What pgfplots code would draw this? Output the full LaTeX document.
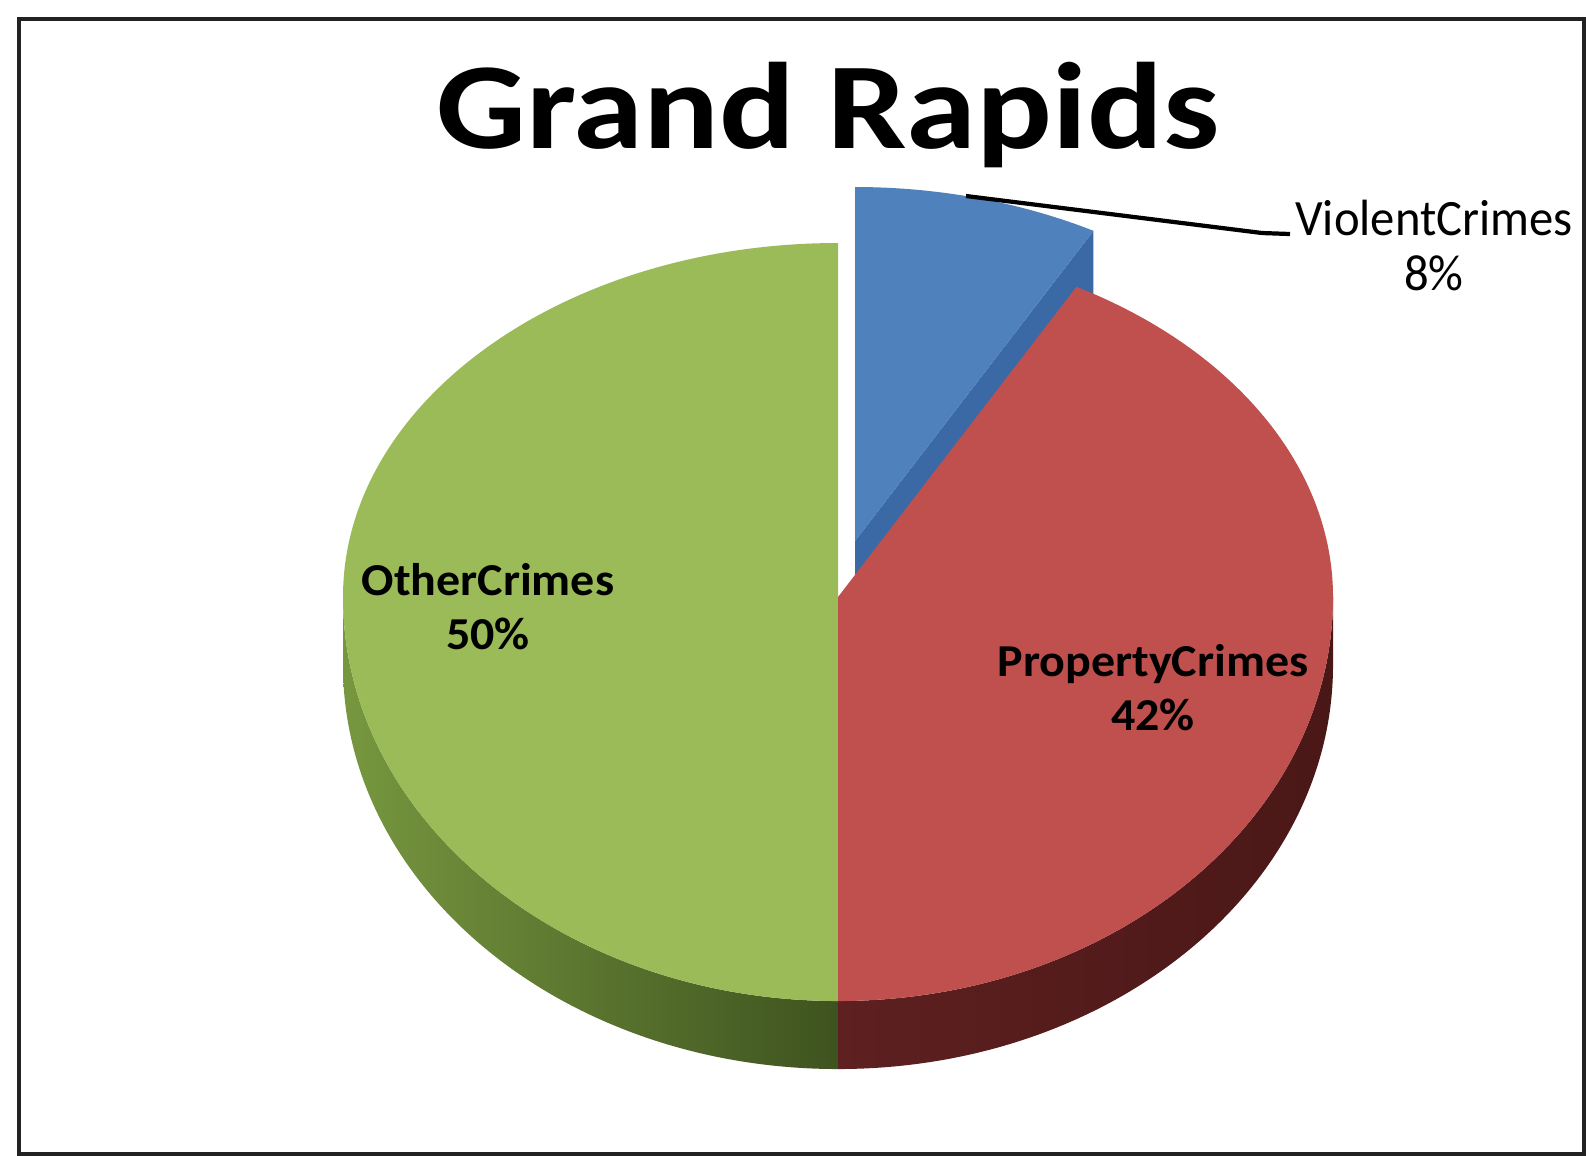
\documentclass[border=0pt]{standalone}
\usepackage{fontspec}
\setmainfont{Carlito}
\usepackage{pgfplots}
\usepackage{pgfplotstable}
\pgfplotsset{compat=1.18}
\definecolor{vblue}{HTML}{4F81BD}
\definecolor{vbluedark}{HTML}{3A69A6}
\definecolor{pred}{HTML}{C0504D}
\definecolor{predsideL}{HTML}{5E2020}
\definecolor{predsideR}{HTML}{4A1717}
\definecolor{ogreen}{HTML}{9BBB59}
\definecolor{ogreensideL}{HTML}{77973F}
\definecolor{ogreensideR}{HTML}{3E531F}
\definecolor{framec}{HTML}{222222}

\pgfplotstableread{
label value
ViolentCrimes 8
PropertyCrimes 42
OtherCrimes 50
}\piedata
\pgfplotstablegetelem{0}{value}\of\piedata \let\vViolent\pgfplotsretval
\pgfplotstablegetelem{1}{value}\of\piedata \let\vProperty\pgfplotsretval
\pgfplotstablegetelem{2}{value}\of\piedata \let\vOther\pgfplotsretval
% slice boundaries (degrees, counter-clockwise), starting at 12 o'clock, clockwise order
\pgfmathsetmacro\aV{90-3.6*\vViolent}          % end of ViolentCrimes
\pgfmathsetmacro\aP{\aV-3.6*\vProperty}        % end of PropertyCrimes
\pgfmathsetmacro\aO{\aP-3.6*\vOther}           % end of OtherCrimes
\def\rx{4.95cm}
\def\ryt{3.54cm}
\def\ryb{4.04cm}
\def\dep{0.68cm}

\begin{document}
\begin{tikzpicture}
\begin{axis}[
  scale only axis, width=15.86cm, height=11.55cm,
  xmin=0, xmax=1586, ymin=0, ymax=1155, y dir=reverse,
  hide axis, clip=false]
\path[fill=white] (axis cs:0,0) rectangle (axis cs:1586,1155);
\draw[framec, line width=0.9pt] (axis cs:19,1154) -- (axis cs:19,19) -- (axis cs:1584,19) -- (axis cs:1584,1154) -- cycle;

\coordinate (O) at (axis cs:838,597);
\coordinate (Ob) at (axis cs:855,541);

% exploded ViolentCrimes slice
\fill[vbluedark] (Ob) -- ++({cos(\aV)*\rx},{sin(\aV)*\ryt}) -- ++(0pt,-\dep) -- ++({-cos(\aV)*\rx},{-sin(\aV)*\ryt}) -- cycle;
\fill[vblue] (Ob) -- ++(0pt,\ryt) arc[start angle=90, end angle=\aV, x radius=\rx, y radius=\ryt] -- cycle;

% sides
\shade[left color=ogreensideL, right color=ogreensideR]
  (O) ++(-\rx,0pt) arc[start angle=180, end angle=270, x radius=\rx, y radius=\ryb]
  -- ++(0pt,-\dep) arc[start angle=270, end angle=180, x radius=\rx, y radius=\ryb] -- cycle;
\shade[left color=predsideL, right color=predsideR]
  (O) ++(0pt,-\ryb) arc[start angle=270, end angle=360, x radius=\rx, y radius=\ryb]
  -- ++(0pt,-\dep) arc[start angle=360, end angle=270, x radius=\rx, y radius=\ryb] -- cycle;

% top faces
\fill[ogreen] (O) -- ++(0pt,\ryt) arc[start angle=90, end angle=180, x radius=\rx, y radius=\ryt]
  arc[start angle=180, end angle=270, x radius=\rx, y radius=\ryb] -- cycle;
\fill[pred] (O) -- ++(0pt,-\ryb) arc[start angle=270, end angle=360, x radius=\rx, y radius=\ryb]
  arc[start angle=0, end angle=\aV, x radius=\rx, y radius=\ryt] -- cycle;

% leader line
\draw[black, line width=1.2pt] (axis cs:966,196) -- (axis cs:1262,233) -- (axis cs:1290,234);

% labels
\node[anchor=base, xscale=0.955, font=\fontsize{14.5}{17}\selectfont] at (axis cs:1434,235) {ViolentCrimes};
\node[anchor=base, xscale=0.955, font=\fontsize{14.5}{17}\selectfont] at (axis cs:1434,290) {8\%};
\node[anchor=base, xscale=1.05, font=\bfseries\fontsize{13}{16}\selectfont] at (axis cs:488,595) {OtherCrimes};
\node[anchor=base, xscale=1.05, font=\bfseries\fontsize{13}{16}\selectfont] at (axis cs:488,649) {50\%};
\node[anchor=base, xscale=1.05, font=\bfseries\fontsize{13}{16}\selectfont] at (axis cs:1153,676) {PropertyCrimes};
\node[anchor=base, xscale=1.05, font=\bfseries\fontsize{13}{16}\selectfont] at (axis cs:1153,730) {42\%};

% title
\node[anchor=base, xscale=1.15, font=\bfseries\fontsize{35}{42}\selectfont] at (axis cs:828,148) {Grand Rapids};
\end{axis}
\end{tikzpicture}
\end{document}
